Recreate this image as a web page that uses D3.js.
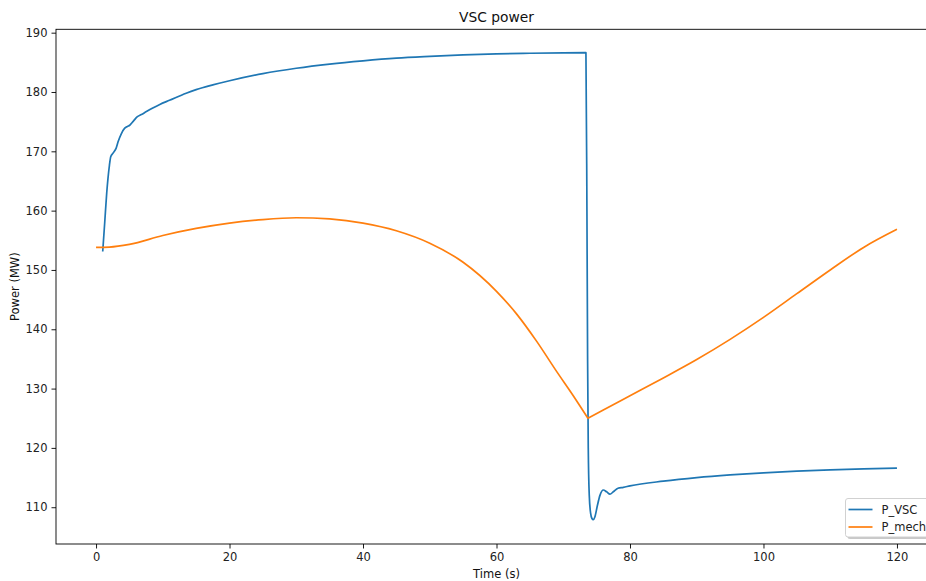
<!DOCTYPE html>
<html>
<head>
<meta charset="utf-8">
<script src="https://cdn.jsdelivr.net/npm/d3@7"></script>
<style>
  html, body { margin: 0; padding: 0; background: #fff; }
  svg { display: block; font-family: "DejaVu Sans", sans-serif; }
</style>
</head>
<body>
<svg id="chart" width="926" height="581"></svg>
<script>
// VSC converter power after the disturbance
const vscTime = [1.0, 1.3, 1.6, 2.0, 2.2, 2.55, 3.0, 3.3, 3.8, 4.3, 4.7, 5.05, 5.6, 6.15, 6.8, 7.55, 8.5, 9.55, 11, 13.5, 15, 17.5, 20, 25, 30, 35, 40, 45, 50, 55, 60, 65, 70, 73.4,
  73.55, 73.65, 73.75, 73.9, 74.1, 74.3, 74.5, 74.75, 75.1, 75.5, 76.0, 76.5, 77.0, 77.5, 78.2, 79, 80, 85, 90, 95, 100, 105, 110, 115, 120];
const vscPower = [153.1, 158.0, 163.0, 167.6, 169.1, 169.7, 170.5, 171.6, 173.0, 173.9, 174.2, 174.4, 175.1, 175.8, 176.2, 176.7, 177.3, 177.9, 178.6, 179.8, 180.4, 181.2, 181.9, 183.1, 184.0, 184.7, 185.25, 185.7, 186.0, 186.25, 186.42, 186.53, 186.6, 186.63,
  160.0, 135.0, 120.0, 112.0, 109.0, 108.1, 107.9, 108.4, 110.2, 112.0, 112.9, 112.6, 112.2, 112.6, 113.2, 113.35, 113.6, 114.4, 115.0, 115.45, 115.8, 116.07, 116.3, 116.47, 116.6];

// Mechanical power
const mechTime = [0, 2, 5, 10, 15, 20, 25, 30, 35, 40, 45, 50, 55, 60, 63, 66, 69, 71.5, 73.7,
  76, 80, 85, 90, 95, 100, 105, 110, 115, 120];
const mechPower = [153.8, 153.85, 154.3, 155.8, 157.0, 157.9, 158.5, 158.8, 158.6, 157.9, 156.6, 154.5, 151.3, 146.4, 142.6, 138.0, 132.9, 128.8, 125.0,
  126.4, 128.8, 131.8, 134.9, 138.3, 142.0, 146.0, 150.0, 153.8, 156.85];

const xTicks = [0, 20, 40, 60, 80, 100, 120];
const yTicks = [110, 120, 130, 140, 150, 160, 170, 180, 190];
const seriesNames = ["P_VSC", "P_mech"];
const seriesColors = ["#1f77b4", "#ff7f0e"];

const svg = d3.select("#chart");
const plot = { left: 56, top: 29.3, right: 937, bottom: 544 };

const x = d3.scaleLinear().domain([-6, 126]).range([plot.left, plot.right]);
const y = d3.scaleLinear().domain([103.8, 190.57]).range([plot.bottom, plot.top]);

const tickFont = 11.5;

const series = [
  { t: vscTime, v: vscPower, splitAtMin: false },
  { t: mechTime, v: mechPower, splitAtMin: true }
];
const line = d3.line()
  .x(d => x(d[0]))
  .y(d => y(d[1]))
  .curve(d3.curveMonotoneX);

const g = svg.append("g");
g.append("clipPath").attr("id", "clip").append("rect")
  .attr("x", plot.left).attr("y", plot.top)
  .attr("width", plot.right - plot.left).attr("height", plot.bottom - plot.top);

// The mechanical power has a sharp corner at the moment of the trip,
// so its path is built from two smooth pieces joined at that vertex.
series.forEach((s, i) => {
  const pts = s.t.map((t, k) => [t, s.v[k]]);
  let d;
  if (s.splitAtMin) {
    const k = d3.minIndex(s.v);
    d = line(pts.slice(0, k + 1)) + line(pts.slice(k)).replace(/^M[^LC]*/, "");
  } else {
    d = line(pts);
  }
  g.append("path")
    .attr("d", d)
    .attr("fill", "none")
    .attr("stroke", seriesColors[i])
    .attr("stroke-width", 1.7)
    .attr("stroke-linejoin", "round")
    .attr("stroke-linecap", "butt")
    .attr("clip-path", "url(#clip)");
});

// Axes
const xAxis = d3.axisBottom(x).tickValues(xTicks).tickSize(4.5).tickPadding(4).tickFormat(d3.format("d"));
const yAxis = d3.axisLeft(y).tickValues(yTicks).tickSize(4.5).tickPadding(4).tickFormat(d3.format("d"));

const gx = svg.append("g").attr("transform", `translate(0,${plot.bottom})`).call(xAxis);
const gy = svg.append("g").attr("transform", `translate(${plot.left},0)`).call(yAxis);
[gx, gy].forEach(a => {
  a.select(".domain").remove();
  a.selectAll(".tick line").attr("stroke", "#000").attr("stroke-width", 0.9);
  a.selectAll(".tick text").attr("fill", "#222").style("font-size", tickFont + "px").style("font-family", "DejaVu Sans, sans-serif");
});

// Frame
svg.append("rect")
  .attr("x", plot.left).attr("y", plot.top)
  .attr("width", plot.right - plot.left).attr("height", plot.bottom - plot.top)
  .attr("fill", "none").attr("stroke", "#000").attr("stroke-width", 0.9);

// Title and axis labels
svg.append("text")
  .attr("x", (plot.left + plot.right) / 2).attr("y", 22)
  .attr("text-anchor", "middle").style("font-size", "13.8px").attr("fill", "#111")
  .text("VSC power");
svg.append("text")
  .attr("x", (plot.left + plot.right) / 2).attr("y", 578)
  .attr("text-anchor", "middle").style("font-size", tickFont + "px").attr("fill", "#111")
  .text("Time (s)");
svg.append("text")
  .attr("transform", `translate(19,${(plot.top + plot.bottom) / 2}) rotate(-90)`)
  .attr("text-anchor", "middle").style("font-size", tickFont + "px").attr("fill", "#111")
  .text("Power (MW)");

// Legend (lower right)
const lg = svg.append("g");
const lx = 845.5, ly = 498.5, lw = 86, lh = 38.5;
lg.append("rect").attr("x", lx + 2).attr("y", ly + 2).attr("width", lw).attr("height", lh)
  .attr("rx", 2.5).attr("fill", "#bbb").attr("opacity", 0.8);
lg.append("rect").attr("x", lx).attr("y", ly).attr("width", lw).attr("height", lh)
  .attr("rx", 2.5).attr("fill", "#fff").attr("stroke", "#ccc").attr("stroke-width", 0.9);
seriesNames.forEach((name, i) => {
  const yy = 509.5 + i * 17.5;
  lg.append("line").attr("x1", 848.5).attr("x2", 872.5).attr("y1", yy).attr("y2", yy)
    .attr("stroke", seriesColors[i]).attr("stroke-width", 1.7);
  lg.append("text").attr("x", 881.5).attr("y", yy + 4)
    .style("font-size", tickFont + "px").attr("fill", "#222").text(name);
});
</script>
</body>
</html>
